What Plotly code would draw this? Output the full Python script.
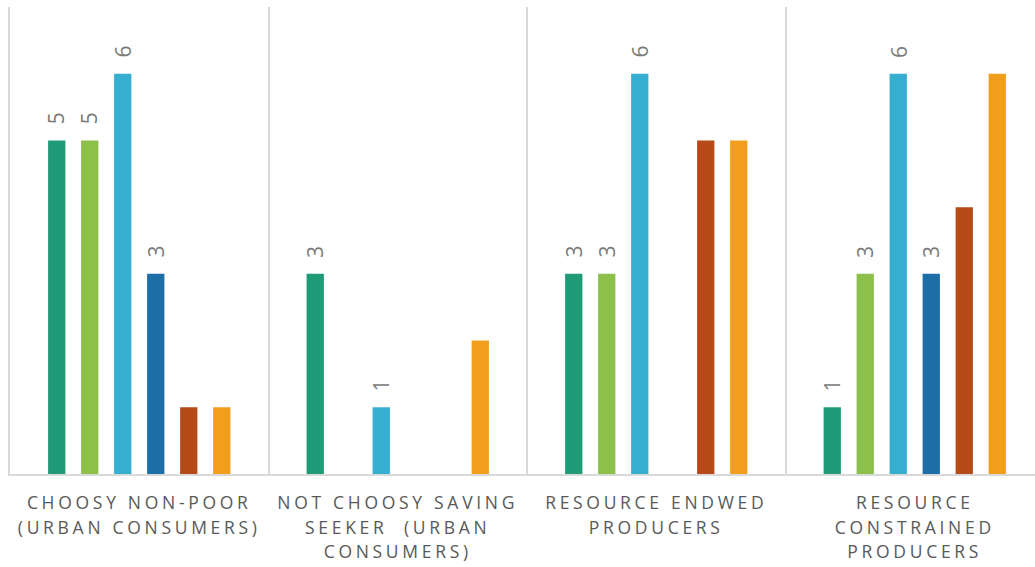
import plotly.graph_objects as go

categories = [
    "CHOOSY NON-POOR<br>(URBAN CONSUMERS)",
    "NOT CHOOSY SAVING<br>SEEKER  (URBAN<br>CONSUMERS)",
    "RESOURCE ENDWED<br>PRODUCERS",
    "RESOURCE<br>CONSTRAINED<br>PRODUCERS",
]
series_names = ["Series 1", "Series 2", "Series 3", "Series 4", "Series 5", "Series 6"]
series_values = [
    [5, 3, 3, 1],
    [5, 0, 3, 3],
    [6, 1, 6, 6],
    [3, 0, 0, 3],
    [1, 0, 5, 4],
    [1, 2, 5, 6],
]
series_labeled = [True, True, True, True, False, False]
colors = ["#1f9b77", "#8cc04a", "#36aecf", "#1e6ea8", "#b64a19", "#f19e1d"]

BARGAP = 0.234
n = len(series_values)
x_idx = list(range(len(categories)))

fig = go.Figure()
for name, vals, col in zip(series_names, series_values, colors):
    fig.add_trace(go.Bar(x=x_idx, y=vals, name=name, marker=dict(color=col, line=dict(width=0))))

annotations = []
slot = (1 - BARGAP) / n
for i, (vals, lab) in enumerate(zip(series_values, series_labeled)):
    if not lab:
        continue
    for j, v in enumerate(vals):
        if v > 0:
            annotations.append(dict(
                x=j + (i - (n - 1) / 2) * slot, y=v, xref="x", yref="y",
                text=str(v), showarrow=False, textangle=-90,
                yanchor="middle", xanchor="center", yshift=22,
                font=dict(family="Open Sans", size=21, color="#7a7a7a"),
            ))


def spaced(label):
    return "<br>".join('<span style="letter-spacing:3.7px;font-size:17.5px">%s</span>' % part
                       for part in label.split("<br>"))


fig.update_layout(
    width=1035, height=567,
    margin=dict(l=10, r=0, t=7, b=93),
    paper_bgcolor="white", plot_bgcolor="white",
    barmode="group", bargap=BARGAP, bargroupgap=0.476,
    showlegend=False,
    annotations=annotations,
    font=dict(family="Open Sans", color="#595959"),
)
fig.update_xaxes(
    range=[-0.5, -0.5 + 1025 / 258.5],
    tickmode="array", tickvals=x_idx, ticktext=[spaced(c) for c in categories],
    tickfont=dict(family="Open Sans", size=18.7, color="#595959"),
    showgrid=False, zeroline=False, ticks="",
    showline=True, linecolor="#d9d9d9", linewidth=2,
    minor=dict(tick0=-0.5, dtick=1, showgrid=True, gridcolor="#d9d9d9", gridwidth=1.5, ticks=""),
    ticklabelstandoff=11,
)
fig.update_yaxes(
    range=[0, 7], showgrid=False, zeroline=False, showticklabels=False, ticks="",
    showline=True, linecolor="#d9d9d9", linewidth=1.5,
)

fig.write_html("out.html")
